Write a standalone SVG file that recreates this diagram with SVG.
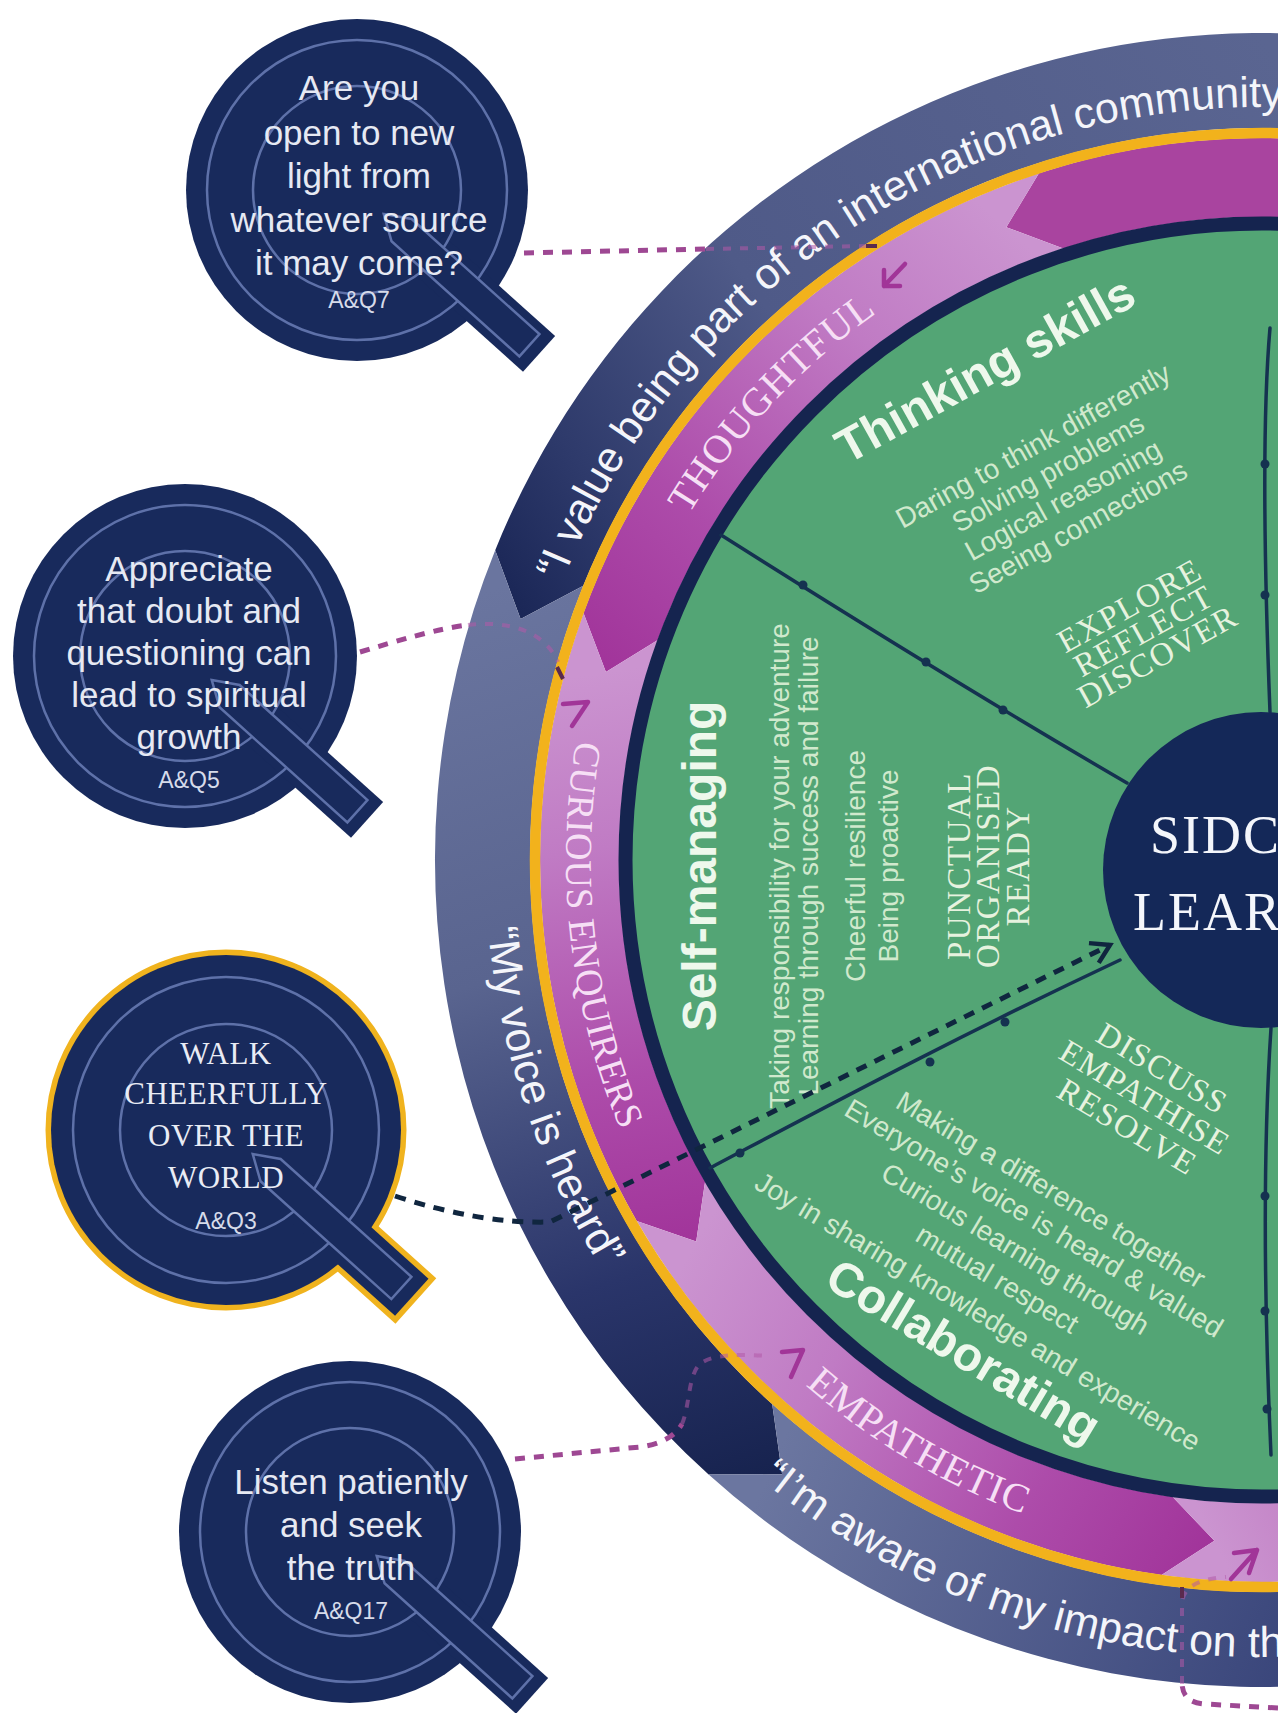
<svg xmlns="http://www.w3.org/2000/svg" width="1278" height="1713" viewBox="0 0 1278 1713">
<defs>
<style>
.qfill{fill:#182a5c}
.qline{fill:none;stroke:#5e71a9;stroke-width:2.5}
.qtail{fill:#182a5c;stroke:#5e71a9;stroke-width:2.5}
.qt{font-family:'Liberation Sans',Arial,sans-serif;font-size:35px;fill:#e6e9f3;text-anchor:middle}
.qref{font-family:'Liberation Sans',Arial,sans-serif;font-size:23px;fill:#d6dbea;text-anchor:middle}
.qcap{font-family:'Liberation Serif','Times New Roman',serif;font-size:31px;fill:#e9ecf5;text-anchor:middle;letter-spacing:0.5px}
.band{font-family:'Liberation Sans',Arial,sans-serif;font-size:43px;fill:#f4f5fa}
.virtue{font-family:'Liberation Serif','Times New Roman',serif;font-size:40px;fill:#f6dff5;letter-spacing:1px;text-anchor:middle}
.head{font-family:'Liberation Sans',Arial,sans-serif;font-size:48px;font-weight:bold;fill:#eef8ec;text-anchor:middle}
.desc{font-family:'Liberation Sans',Arial,sans-serif;font-size:28px;fill:#d0e9cd;text-anchor:middle}
.caps{font-family:'Liberation Serif','Times New Roman',serif;font-size:33px;fill:#e6f2df;text-anchor:middle;letter-spacing:1.5px}
.spoke{fill:none;stroke:#153250;stroke-width:3.5;stroke-linecap:round}
.dot{fill:#153250}
.pink{fill:none;stroke:#9e4893;stroke-width:5;stroke-dasharray:10 9}
.pinkf{fill:none;stroke:#b25aa8;stroke-width:4;stroke-dasharray:8 9;opacity:.55}
.navy{fill:none;stroke:#10263f;stroke-width:5;stroke-dasharray:11 9}
.icon{fill:none;stroke:#a13598;stroke-width:4.5;stroke-linecap:round;stroke-linejoin:round}
.tick{stroke:#5a2a4e;stroke-width:4}
</style>
<linearGradient id="gN1" gradientUnits="userSpaceOnUse" x1="1278" y1="60" x2="505" y2="590">
<stop offset="0" stop-color="#5a6591"/><stop offset="0.6" stop-color="#4f5a88"/><stop offset="0.86" stop-color="#2e3a6b"/><stop offset="1" stop-color="#1b2757"/>
</linearGradient>
<linearGradient id="gN2" gradientUnits="userSpaceOnUse" x1="490" y1="590" x2="780" y2="1470">
<stop offset="0" stop-color="#6a759f"/><stop offset="0.4" stop-color="#59648f"/><stop offset="0.75" stop-color="#2a356a"/><stop offset="1" stop-color="#17234f"/>
</linearGradient>
<linearGradient id="gN3" gradientUnits="userSpaceOnUse" x1="770" y1="1470" x2="1278" y2="1690">
<stop offset="0" stop-color="#6b76a0"/><stop offset="1" stop-color="#3a467b"/>
</linearGradient>
<linearGradient id="gP1" gradientUnits="userSpaceOnUse" x1="1006" y1="227" x2="606" y2="672">
<stop offset="0" stop-color="#cb94d0"/><stop offset="0.3" stop-color="#c07bc4"/><stop offset="0.7" stop-color="#ad4caa"/><stop offset="1" stop-color="#a1349a"/>
</linearGradient>
<linearGradient id="gP2" gradientUnits="userSpaceOnUse" x1="606" y1="672" x2="696" y2="1242">
<stop offset="0" stop-color="#cb94d0"/><stop offset="0.3" stop-color="#c07bc4"/><stop offset="0.7" stop-color="#ad4caa"/><stop offset="1" stop-color="#a1349a"/>
</linearGradient>
<linearGradient id="gP3" gradientUnits="userSpaceOnUse" x1="696" y1="1242" x2="1214" y2="1541">
<stop offset="0" stop-color="#cb94d0"/><stop offset="0.3" stop-color="#c07bc4"/><stop offset="0.7" stop-color="#ad4caa"/><stop offset="1" stop-color="#a1349a"/>
</linearGradient>
<linearGradient id="gP4" gradientUnits="userSpaceOnUse" x1="1214" y1="1541" x2="1450" y2="1420">
<stop offset="0" stop-color="#cb94d0"/><stop offset="1" stop-color="#b565b4"/>
</linearGradient>
<marker id="openArrow" markerUnits="userSpaceOnUse" viewBox="-22 -14 26 28" refX="0" refY="0" markerWidth="26" markerHeight="28" orient="auto">
<path d="M-18,-11 L0,0 L-18,11" fill="none" stroke="#10263f" stroke-width="4.5"/>
</marker>
<path id="tpValue" d="M562.4,581.6 A753,753 0 0 1 1638.5,207.9"/>
<path id="tpVoice" d="M488.0,927.7 A777,777 0 0 0 873.5,1532.9"/>
<path id="tpAware" d="M760.4,1479.4 A797,797 0 0 0 1534.6,1608.9"/>
<path id="tpThought" d="M633.3,631.2 A669,669 0 0 1 989.9,248.8"/>
<path id="tpCurious" d="M589.7,679.9 A696,696 0 0 0 647.5,1186.8"/>
<path id="tpEmpath" d="M744.8,1325.7 A696,696 0 0 0 1105.4,1538.2"/>
</defs>
<rect width="1278" height="1713" fill="#ffffff"/>

<g id="wheel">
<path d="M1675.5,143.8 A827,827 0 0 0 495.2,550.2 L520.6,619.1 L583.3,585.8 A732,732 0 0 1 1628,226.1 Z" fill="url(#gN1)"/>
<path d="M495.2,550.2 A827,827 0 0 0 708.6,1474.6 L782.1,1474.3 L772.2,1404.0 A732,732 0 0 1 583.3,585.8 L520.6,619.1 Z" fill="url(#gN2)"/>
<path d="M708.6,1474.6 A827,827 0 0 0 1675.5,1576.2 L1628,1493.9 A732,732 0 0 1 772.2,1404.0 L782.1,1474.3 Z" fill="url(#gN3)"/>
<path d="M1815.1,395.9 A722,722 0 0 0 1038.9,173.3 L1006.3,227.2 L1063.3,248.5 A643,643 0 0 1 1754.6,446.7 Z" fill="#a9449f"/>
<path d="M1038.9,173.3 A722,722 0 0 0 583.5,613.1 L605.9,671.9 L657.8,640.1 A643,643 0 0 1 1063.3,248.5 L1006.3,227.2 Z" fill="url(#gP1)"/>
<path d="M583.5,613.1 A722,722 0 0 0 636.7,1221.0 L696.2,1241.6 L705.1,1181.5 A643,643 0 0 1 657.8,640.1 L605.9,671.9 Z" fill="url(#gP2)"/>
<path d="M636.7,1221.0 A722,722 0 0 0 1161.5,1575.0 L1214.4,1540.8 L1172.5,1496.7 A643,643 0 0 1 705.1,1181.5 L696.2,1241.6 Z" fill="url(#gP3)"/>
<path d="M1161.5,1575.0 A722,722 0 0 0 1815.1,1324.1 L1754.6,1273.3 A643,643 0 0 1 1172.5,1496.7 L1214.4,1540.8 Z" fill="url(#gP4)"/>
<circle cx="1262" cy="860" r="727" fill="none" stroke="#f2b21c" stroke-width="10.5"/>
<circle cx="1262" cy="860" r="631" fill="#53a575"/>
<circle cx="1262" cy="860" r="636.5" fill="none" stroke="#15244f" stroke-width="14"/>

<text class="band"><textPath href="#tpValue">“I value being part of an international community</textPath></text>
<text class="band"><textPath href="#tpVoice">“My voice is heard”</textPath></text>
<text class="band"><textPath href="#tpAware">“I’m aware of my impact on th</textPath></text>
<text class="virtue"><textPath href="#tpThought" startOffset="50%">THOUGHTFUL</textPath></text>
<text class="virtue" style="font-size:38px;letter-spacing:0.5px"><textPath href="#tpCurious" startOffset="50%">CURIOUS ENQUIRERS</textPath></text>
<text class="virtue"><textPath href="#tpEmpath" startOffset="50%">EMPATHETIC</textPath></text>

<g id="spokes">
<path class="spoke" d="M721,535 C800,585 950,680 1127,783"/>
<path class="spoke" d="M710,1168 C820,1110 950,1040 1120,960"/>
<path class="spoke" d="M1270,328 C1262,420 1264,560 1270,712"/>
<path class="spoke" d="M1271,1028 C1263,1150 1264,1300 1271,1455"/>
<circle class="dot" cx="803" cy="585" r="4.5"/>
<circle class="dot" cx="926" cy="662" r="4.5"/>
<circle class="dot" cx="1003" cy="710" r="4.5"/>
<circle class="dot" cx="740" cy="1153" r="4.5"/>
<circle class="dot" cx="930" cy="1062" r="4.5"/>
<circle class="dot" cx="1005" cy="1022" r="4.5"/>
<circle class="dot" cx="1265" cy="464" r="4.5"/>
<circle class="dot" cx="1265" cy="595" r="4.5"/>
<circle class="dot" cx="1265" cy="1196" r="4.5"/>
<circle class="dot" cx="1265" cy="1311" r="4.5"/>
<circle class="dot" cx="1267" cy="1409" r="4.5"/>
</g>

<g id="thinking" transform="translate(993,384) rotate(-29)">
<text class="head" x="0" y="0">Thinking skills</text>
<text class="desc" x="5" y="83">Daring to think differently</text>
<text class="desc" x="5" y="114">Solving problems</text>
<text class="desc" x="5" y="145">Logical reasoning</text>
<text class="desc" x="5" y="176">Seeing connections</text>
<text class="caps" x="12" y="271">EXPLORE</text>
<text class="caps" x="12" y="300">REFLECT</text>
<text class="caps" x="12" y="329">DISCOVER</text>
</g>

<g id="self-managing" transform="translate(716,866) rotate(-90)">
<text class="head" x="0" y="0">Self-managing</text>
<text class="desc" x="0" y="73">Taking responsibility for your adventure</text>
<text class="desc" x="0" y="102">Learning through success and failure</text>
<text class="desc" x="0" y="149">Cheerful resilience</text>
<text class="desc" x="0" y="182">Being proactive</text>
<text class="caps" x="0" y="254">PUNCTUAL</text>
<text class="caps" x="0" y="283">ORGANISED</text>
<text class="caps" x="0" y="313">READY</text>
</g>

<g id="collaborating" transform="translate(955,1365) rotate(31)">
<text class="head" x="0" y="0">Collaborating</text>
<text class="desc" x="-8" y="-48">Joy in sharing knowledge and experience</text>
<text class="desc" x="-8" y="-86">mutual respect</text>
<text class="desc" x="-8" y="-121">Curious learning through</text>
<text class="desc" x="-8" y="-157">Everyone’s voice is heard &amp; valued</text>
<text class="desc" x="-8" y="-190">Making a difference together</text>
<text class="caps" x="25" y="-282">RESOLVE</text>
<text class="caps" x="25" y="-316">EMPATHISE</text>
<text class="caps" x="25" y="-350">DISCUSS</text>
</g>

<g id="centre">
<circle cx="1261" cy="870" r="158" fill="#142858"/>
<text x="1150" y="853" font-family="'Liberation Serif','Times New Roman',serif" font-size="54" fill="#f4f6fb" letter-spacing="2">SIDC</text>
<text x="1133" y="930" font-family="'Liberation Serif','Times New Roman',serif" font-size="54" fill="#f4f6fb" letter-spacing="2">LEAR</text>
</g>
</g>

<g id="connectors">
<path class="pink" d="M524,253 L706,249"/>
<path class="pinkf" d="M706,249 L866,246"/>
<line class="tick" x1="866" y1="246" x2="877" y2="246"/>
<path class="icon" d="M884,270 L884,286 L900,286 M884,286 L905,264"/>
<path class="pink" d="M360,652 C400,640 440,628 468,625"/>
<path class="pinkf" d="M468,625 C510,620 545,632 558,662"/>
<line class="tick" x1="557" y1="667" x2="563" y2="679"/>
<path class="icon" d="M563,704 L588,702 L572,726"/>
<path class="navy" d="M395,1196 Q480,1224 550,1222 L1110,945" marker-end="url(#openArrow)"/>
<path class="pink" d="M515,1459 L640,1447 C662,1444 675,1436 682,1424"/>
<path class="pinkf" d="M682,1424 C690,1405 688,1375 700,1364 C712,1354 740,1354 768,1356"/>
<path class="icon" d="M782,1352 L803,1350 L791,1377"/>
<path class="pink" d="M1278,1708 L1205,1704 C1190,1703 1183,1697 1182,1684"/>
<path class="pinkf" d="M1182,1684 L1182,1602 C1184,1586 1200,1579 1226,1577"/>
<line class="tick" x1="1182" y1="1587" x2="1182" y2="1598"/>
<path class="icon" d="M1234,1553 L1257,1550 L1249,1573 M1257,1550 L1231,1579"/>
</g>

<g id="q-aq7">
<g transform="translate(357,190)">
<circle r="171" class="qfill"/>
<rect x="95" y="-24" width="150" height="48" class="qfill" transform="rotate(42)"/>
<circle r="150" class="qline"/>
<circle r="104" class="qline"/>
<path d="M36,0 L60,-15 L232,-15 L232,15 L60,15 Z" class="qtail" transform="rotate(42)"/>
</g>
<text class="qt" x="359" y="100">Are you</text>
<text class="qt" x="359" y="145">open to new</text>
<text class="qt" x="359" y="188">light from</text>
<text class="qt" x="359" y="232">whatever source</text>
<text class="qt" x="359" y="275">it may come?</text>
<text class="qref" x="359" y="308">A&amp;Q7</text>
</g>

<g id="q-aq5">
<g transform="translate(185,656)">
<circle r="172" class="qfill"/>
<rect x="95" y="-24" width="150" height="48" class="qfill" transform="rotate(42)"/>
<circle r="151" class="qline"/>
<circle r="105" class="qline"/>
<path d="M36,0 L60,-15 L232,-15 L232,15 L60,15 Z" class="qtail" transform="rotate(42)"/>
</g>
<text class="qt" x="189" y="581">Appreciate</text>
<text class="qt" x="189" y="623">that doubt and</text>
<text class="qt" x="189" y="665">questioning can</text>
<text class="qt" x="189" y="707">lead to spiritual</text>
<text class="qt" x="189" y="749">growth</text>
<text class="qref" x="189" y="788">A&amp;Q5</text>
</g>

<g id="q-aq3">
<g transform="translate(226,1130)">
<circle r="175" fill="none" stroke="#f0b31e" stroke-width="11"/>
<rect x="95" y="-25" width="155" height="50" fill="none" stroke="#f0b31e" stroke-width="11" transform="rotate(42)"/>
<circle r="175" class="qfill"/>
<rect x="95" y="-25" width="155" height="50" class="qfill" transform="rotate(42)"/>
<circle r="153" class="qline"/>
<circle r="106" class="qline"/>
<path d="M36,0 L60,-15 L236,-15 L236,15 L60,15 Z" class="qtail" transform="rotate(42)"/>
</g>
<text class="qcap" x="226" y="1064">WALK</text>
<text class="qcap" x="226" y="1104">CHEERFULLY</text>
<text class="qcap" x="226" y="1146">OVER THE</text>
<text class="qcap" x="226" y="1188">WORLD</text>
<text class="qref" x="226" y="1229">A&amp;Q3</text>
</g>

<g id="q-aq17">
<g transform="translate(350,1532)">
<circle r="171" class="qfill"/>
<rect x="95" y="-24" width="150" height="48" class="qfill" transform="rotate(42)"/>
<circle r="150" class="qline"/>
<circle r="104" class="qline"/>
<path d="M36,0 L60,-15 L232,-15 L232,15 L60,15 Z" class="qtail" transform="rotate(42)"/>
</g>
<text class="qt" x="351" y="1494">Listen patiently</text>
<text class="qt" x="351" y="1537">and seek</text>
<text class="qt" x="351" y="1580">the truth</text>
<text class="qref" x="351" y="1619">A&amp;Q17</text>
</g>
</svg>
